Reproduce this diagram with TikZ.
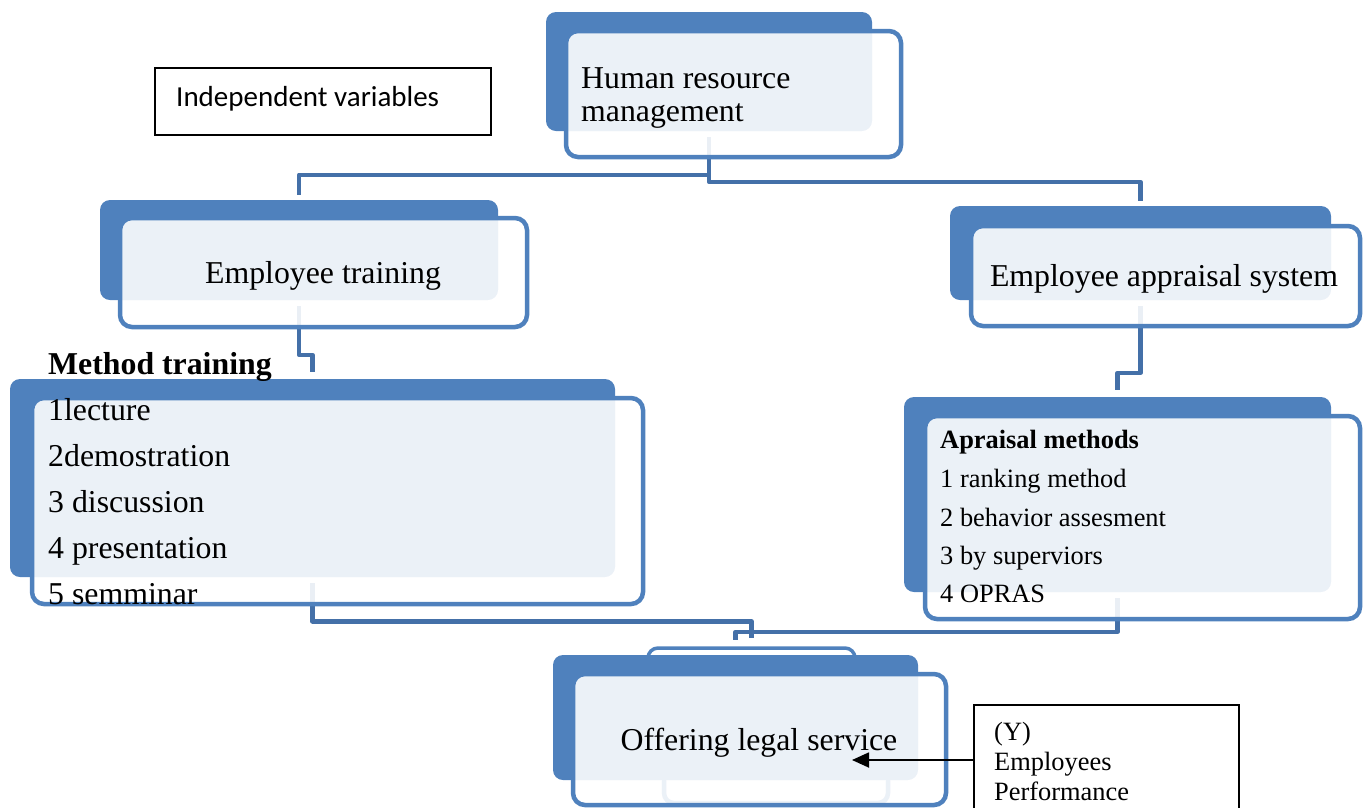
\documentclass[tikz,border=0pt]{standalone}
\usepackage{fontspec}
\setmainfont{Liberation Serif}
\newfontfamily\calibrifont{Carlito}
\usetikzlibrary{calc,fit,arrows.meta}
\pgfdeclarelayer{back}
\pgfdeclarelayer{mid}
\pgfsetlayers{back,mid,main}
\definecolor{accent}{HTML}{4F81BD}
\definecolor{connblue}{RGB}{68,112,168}
\begin{document}
\begin{tikzpicture}[x=1pt,y=-1pt,
  darkbox/.style={fill=accent, draw=none, rounded corners=10pt, inner sep=0pt},
  framebox/.style={draw=accent, line width=4.5pt, fill=white, fill opacity=0.89, text opacity=1, rounded corners=12pt, inner sep=0pt},
  ghostbox/.style={draw=accent, line width=3.5pt, rounded corners=10pt, inner sep=0pt},
  conn/.style={draw=connblue, line width=4.5pt, line join=round},
  bigtxt/.style={font=\fontsize{31.8}{33}\selectfont, inner sep=0pt},
  midtxt/.style={font=\fontsize{26.4}{30}\selectfont, inner sep=0pt},
  plainbox/.style={draw=black, line width=1.5pt, inner sep=0pt}
]
\useasboundingbox (0,0) rectangle (1365,807);

% ghost shapes behind the bottom box
\begin{pgfonlayer}{back}
  \node[ghostbox, fit={(648,648) (855,775)}] (ghostA) {};
  \node[ghostbox, line width=4.5pt, fit={(664,668) (888,803)}] (ghostB) {};
\end{pgfonlayer}

% dark back plates
\begin{pgfonlayer}{mid}
  \node[darkbox, fit={(546,12) (872,131)}] (hrmD) {};
  \node[darkbox, fit={(100,200) (498,300)}] (etD) {};
  \node[darkbox, fit={(950,206) (1331,300)}] (eaD) {};
  \node[darkbox, fit={(10,379) (615,577)}] (mtD) {};
  \node[darkbox, fit={(904,397) (1331,592)}] (amD) {};
  \node[darkbox, fit={(553,655) (918,780)}] (olD) {};
\end{pgfonlayer}

% framed front boxes
\node[framebox, fit={(566,31) (901,157)}] (hrm) {};
\node[framebox, fit={(120,218) (527,327)}] (et) {};
\node[framebox, fit={(971,226) (1360,326)}] (ea) {};
\node[framebox, fit={(32,398) (643,604)}] (mt) {};
\node[framebox, fit={(925,416) (1360,619)}] (am) {};
\node[framebox, fit={(573,674) (946,805)}] (ol) {};

% connectors
\begin{pgfonlayer}{back}
  \draw[conn] ($(hrmD.south)+(0,6)$) |- ($(etD.north)+(0,-25)$) -- ($(etD.north)+(0,-5)$);
  \draw[conn] ($(hrmD.south)+(0,6)$) |- ($(eaD.north)+(0,-24)$) -- ($(eaD.north)+(0,-5)$);
  \draw[conn] ($(etD.south)+(0,6)$) |- ($(mtD.north)+(0,-24)$) -- ($(mtD.north)+(0,-7)$);
  \draw[conn] ($(eaD.south)+(0,6)$) |- ($(amD.north)+(0,-24)$) -- ($(amD.north)+(0,-7)$);
  \draw[conn] ($(mtD.south)+(0,6)$) |- ($(ghostA.north)+(0,-25)$) -- ($(ghostA.north)+(0,-8)$);
  \draw[conn] ($(amD.south)+(0,6)$) |- ($(olD.north)+(0,-23)$) -- ($(olD.north)+(0,-15)$);
\end{pgfonlayer}

% texts
\node[bigtxt, anchor=base west] (hrmT1) at (581,88) {Human resource};
\node[bigtxt, anchor=base west] (hrmT2) at (581,121) {management};
\node[bigtxt, anchor=base] (etT) at (323,283) {Employee training};
\node[bigtxt, anchor=base] (eaT) at (1164,286) {Employee appraisal system};
\node[bigtxt, anchor=base] (olT) at (759,750) {Offering legal service};

\node[bigtxt, anchor=base west, font=\fontsize{31.8}{33}\selectfont\bfseries] (mtT0) at (48,374) {Method training};
\node[bigtxt, anchor=base west] (mtT1) at (48,420) {1lecture};
\node[bigtxt, anchor=base west] (mtT2) at (48,466) {2demostration};
\node[bigtxt, anchor=base west] (mtT3) at (48,512) {3 discussion};
\node[bigtxt, anchor=base west] (mtT4) at (48,558) {4 presentation};
\node[bigtxt, anchor=base west] (mtT5) at (48,604) {5 semminar};

\node[midtxt, anchor=base west, font=\fontsize{26.4}{30}\selectfont\bfseries] (amT0) at (940,448) {Apraisal methods};
\node[midtxt, anchor=base west] (amT1) at (940,487) {1 ranking method};
\node[midtxt, anchor=base west] (amT2) at (940,526) {2 behavior assesment};
\node[midtxt, anchor=base west] (amT3) at (940,564) {3 by superviors};
\node[midtxt, anchor=base west] (amT4) at (940,602) {4 OPRAS};

% independent variables box
\node[plainbox, fit={(155,68) (491,135)}] (indep) {};
\node[inner sep=0pt, anchor=base west, font=\calibrifont\fontsize{29}{33}\selectfont] (indepT) at (176,106) {Independent variables};

% dependent variable box
\node[plainbox, line width=1.8pt, fit={(974,705) (1239,840)}] (ybox) {};
\node[midtxt, anchor=base west] (yT1) at (994,740) {(Y)};
\node[midtxt, anchor=base west] (yT2) at (994,770) {Employees};
\node[midtxt, anchor=base west] (yT3) at (994,800) {Performance};

\coordinate (ytip) at (852,760);
\draw[line width=1.8pt, -{Triangle[length=17pt,width=15pt]}] (ybox.west |- ytip) -- (ytip);
\end{tikzpicture}
\end{document}
